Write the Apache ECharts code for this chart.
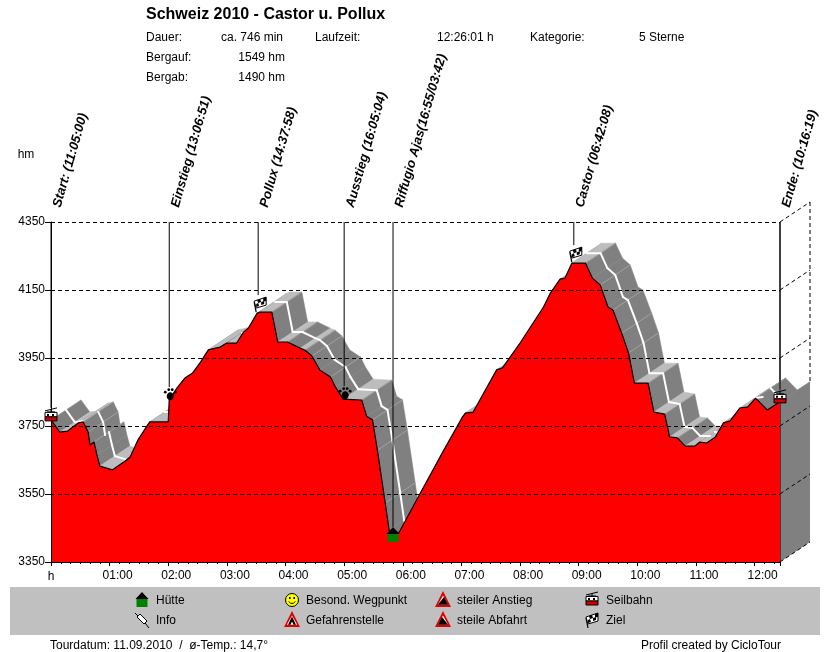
<!DOCTYPE html>
<html><head><meta charset="utf-8">
<style>html,body{margin:0;padding:0;background:#fff}#c{width:830px;height:652px}</style>
<script src="https://cdn.jsdelivr.net/npm/echarts@6/dist/echarts.min.js"></script>
</head><body><div id="c"></div>
<script>
const minutes=[0,9,17,28,33,38,40,44,47,50,63,76,81,89,101,120,121,129,137,145,153,161,173,180,190,197,202,211,214,226,232,242,255,260,267,275,286,291,299,318,323,329,334,342,346,350,357,378,401,421,424,432,456,462,480,504,511,521,526,533,547,554,562,570,575,584,591,597,611,617,628,633,641,649,659,664,671,680,688,695,705,713,721,733,746];
const elevations=[3768,3732,3735,3759,3762,3732,3694,3703,3665,3632,3621,3647,3659,3709,3762,3762,3826,3862,3891,3906,3938,3974,3982,3994,3994,4026,4038,4082,4085,4085,3997,3997,3979,3973,3956,3915,3894,3865,3829,3826,3779,3768,3679,3524,3444,3415,3441,3553,3674,3776,3788,3791,3915,3921,3994,4100,4141,4182,4185,4229,4229,4185,4165,4100,4091,4023,3965,3876,3876,3791,3785,3718,3715,3691,3691,3703,3700,3718,3759,3765,3803,3806,3832,3797,3821];
const yTicks=[3350,3550,3750,3950,4150,4350];
const xTickLabels=['h','01:00','02:00','03:00','04:00','05:00','06:00','07:00','08:00','09:00','10:00','11:00','12:00'];
const wpNames=['Start: (11:05:00)','Einstieg (13:06:51)','Pollux (14:37:58)','Ausstieg (16:05:04)','Riffugio Ajas(16:55/03:42)','Castor (06:42:08)','Ende: (10:16:19)'];
const wpMinutes=[0,121,212,300,350,535,746];
const wpElev=[3768,3826,4082,3829,3415,4229,3821];
const wpIcons=['cable','paw','flag','paw','hut','flag','cable'];
const legendItems=[['hut','Hütte'],['info','Info'],['smiley','Besond. Wegpunkt'],['danger','Gefahrenstelle'],['up','steiler Anstieg'],['down','steile Abfahrt'],['cable','Seilbahn'],['flag','Ziel']];
const legendCols=[142,292,443,592];
const DX=30,DY=-20;
const F='"Liberation Sans",Arial,sans-serif';

function poly(points,fill,stroke,lw){return {type:'polygon',shape:{points},style:{fill,stroke:stroke||null,lineWidth:lw||0}};}
function ln(x1,y1,x2,y2,c,w){return {type:'line',shape:{x1,y1,x2,y2},style:{stroke:c||'#000',lineWidth:w||1}};}
function rc(x,y,w,h,f,s){return {type:'rect',shape:{x,y,width:w,height:h},style:{fill:f,stroke:s||null,lineWidth:s?1:0}};}
function icon(k){
  if(k==='hut')return [rc(-5.5,-1,11,8,'#008000'),poly([[-6.5,-1],[0,-8],[6.5,-1]],'#000')];
  if(k==='paw')return [{type:'ellipse',shape:{cx:0,cy:2,rx:3.5,ry:4},style:{fill:'#000'}},
    {type:'circle',shape:{cx:-5,cy:-2,r:1.4},style:{fill:'#000'}},{type:'circle',shape:{cx:-1.5,cy:-4.5,r:1.4},style:{fill:'#000'}},
    {type:'circle',shape:{cx:2,cy:-4.5,r:1.4},style:{fill:'#000'}},{type:'circle',shape:{cx:5,cy:-2,r:1.4},style:{fill:'#000'}}];
  if(k==='flag')return [ln(-4,8,-6,-2,'#000',1.2),poly([[-6,-3],[6,-7],[6,1],[-4,4]],'#fff','#000',1),
    poly([[-3,-4],[0,-5],[1,-2],[-2,-1]],'#000'),poly([[3,-6],[6,-7],[6,-3],[3,-2.5]],'#000'),poly([[1,-2],[4,-3],[4,0],[1,1]],'#000'),poly([[-4,0],[-2,-1],[-1,2],[-4,3]],'#000')];
  if(k==='cable')return [ln(-6,-5,6,-8,'#000',1),ln(0,-7,0,-4,'#000',1),ln(-4,-4,4,-4,'#000',1),rc(-6,-3.5,12,4.5,'#fff','#000'),rc(-6,1,12,4,'#d00000','#000'),rc(-4,-2,2,2,'#000'),rc(1,-2,2,2,'#000')];
  if(k==='info')return [ln(-7,-7,-3,-3,'#000',1),ln(3,3,7,8,'#000',1),poly([[-5,-3],[-2,-6],[5,1],[2,4]],'#fff','#000',1)];
  if(k==='smiley')return [{type:'circle',shape:{cx:0,cy:0,r:6.5},style:{fill:'#ffff00',stroke:'#000',lineWidth:1}},rc(-3,-3,1.6,2,'#000'),rc(1.4,-3,1.6,2,'#000'),
    {type:'arc',shape:{cx:0,cy:0,r:3.5,startAngle:0.4,endAngle:2.74},style:{stroke:'#000',lineWidth:1,fill:null}}];
  const tri=[poly([[0,-9],[8,7],[-8,7]],'#e00000'),poly([[0,-4.5],[5.2,4.8],[-5.2,4.8]],'#fff')];
  if(k==='danger')return tri.concat([poly([[0,-3.5],[4,4.8],[1.5,4.8],[0,1.5],[-1.5,4.8],[-4,4.8]],'#000')]);
  if(k==='up')return tri.concat([poly([[1,-3],[5.2,4.8],[-5.2,4.8]],'#000')]);
  if(k==='down')return tri.concat([poly([[-1,-3],[5.2,4.8],[-5.2,4.8]],'#000')]);
  return [];
}
const lineEnd={cable:-8,paw:-7,flag:-9,hut:-8};
const iconShift={cable:[0,-4],paw:[1,-6],flag:[2,-9],hut:[0,-5]};

const profile=minutes.map((m,i)=>[m,elevations[i]]);
const segments=minutes.slice(1).map((m,i)=>[minutes[i],elevations[i],m,elevations[i+1]]);
const slopeOf=(a,b)=>(b[1]-a[1])/Math.max(0.5,b[0]-a[0]);

const txt=(x,y,text,o)=>({type:'text',x,y:y+1,silent:true,style:Object.assign({text,font:'12px '+F,fill:'#000',textVerticalAlign:'middle'},o||{})});
const graphics=[
  {type:'rect',shape:{x:10,y:587,width:810,height:48},style:{fill:'#c0c0c0'},z:0},
  txt(146,14,'Schweiz 2010 - Castor u. Pollux',{font:'bold 16px '+F}),
  txt(146,37,'Dauer:'),txt(221,37,'ca. 746 min'),txt(315,37,'Laufzeit:'),txt(437,37,'12:26:01 h'),txt(530,37,'Kategorie:'),txt(639,37,'5 Sterne'),
  txt(146,57,'Bergauf:'),txt(285,57,'1549 hm',{textAlign:'right'}),txt(146,77,'Bergab:'),txt(285,77,'1490 hm',{textAlign:'right'}),
  txt(26,154,'hm',{textAlign:'center'}),
  txt(51,576,xTickLabels[0],{textAlign:'center'}),
  txt(50,645,'Tourdatum: 11.09.2010  /  ø-Temp.: 14,7°'),txt(781,645,'Profil created by CicloTour',{textAlign:'right'})
];
legendItems.forEach((it,i)=>{
  const x=legendCols[Math.floor(i/2)],y=i%2?620:600;
  graphics.push({type:'group',x,y,children:icon(it[0])});
  graphics.push(txt(x+14,y,it[1]));
});

const chart=echarts.init(document.getElementById('c'),null,{renderer:'canvas'});
chart.setOption({
  animation:false,backgroundColor:'#fff',
  grid:{left:51,right:50,top:222,bottom:90},
  xAxis:{type:'value',min:0,max:746,interval:60,z:3,splitLine:{show:false},showMaxLabel:false,
    axisLine:{onZero:false,lineStyle:{color:'#000'}},axisTick:{length:4,lineStyle:{color:'#000'}},
    minorTick:{show:true,splitNumber:6,length:2,lineStyle:{color:'#000'}},
    axisLabel:{color:'#000',fontFamily:F,fontSize:12,margin:8,padding:[0,0,0,16],
      formatter:v=>(v>0&&v%60===0)?xTickLabels[v/60]:''}},
  yAxis:{type:'value',min:3350,max:4350,z:3,
    axisLine:{show:true,lineStyle:{color:'#000'}},
    axisTick:{show:true,length:6,customValues:yTicks,lineStyle:{color:'#000'}},
    axisLabel:{color:'#000',fontFamily:F,fontSize:12,margin:6,padding:[2,0,0,0],customValues:yTicks,formatter:v=>String(v)},
    splitLine:{show:true,lineStyle:{color:'#000',type:[4,3],width:1}}},
  graphic:{elements:graphics},
  series:[
    {type:'custom',z:1,silent:true,data:yTicks,renderItem(p,api){
      const c=api.coord([746,api.value(0)]);
      return {type:'line',z2:5,shape:{x1:c[0],y1:c[1],x2:c[0]+DX,y2:c[1]+DY},style:{stroke:'#000',lineWidth:1,lineDash:[4,3]}};
    },encode:{y:0}},
    {type:'custom',z:1,silent:true,data:[[746,elevations[elevations.length-1]]],renderItem(p,api){
      const a=api.coord([746,api.value(1)]),b=api.coord([746,yTicks[0]]),t=api.coord([746,yTicks[yTicks.length-1]]);
      return {type:'group',children:[
        poly([a,[a[0]+DX,a[1]+DY],[b[0]+DX,b[1]+DY],b],'#808080'),
        {type:'line',shape:{x1:t[0]+DX,y1:t[1]+DY,x2:a[0]+DX,y2:a[1]+DY},style:{stroke:'#000',lineWidth:1,lineDash:[4,3]}},
        ln(t[0],t[1],b[0],b[1],'#000',1)
      ]};
    },encode:{x:0,y:1}},
    {type:'custom',z:1,silent:true,data:segments,renderItem(p,api){
      const a=api.coord([api.value(0),api.value(1)]),b=api.coord([api.value(2),api.value(3)]);
      const flat=Math.abs(b[1]-a[1])/Math.max(0.5,b[0]-a[0])<0.45;
      const col=flat?'#bdbdbd':'#808080';
      return poly([a,b,[b[0]+DX,b[1]+DY],[a[0]+DX,a[1]+DY]],col,col,0.5);
    },encode:{x:[0,2],y:[1,3]}},
    {type:'custom',z:1,silent:true,data:profile.map((q,i)=>i).filter(i=>i>0&&i<profile.length-1&&slopeOf(profile[i],profile[i+1])<-1&&slopeOf(profile[i],profile[i+1])<slopeOf(profile[i-1],profile[i])),renderItem(p,api){
      const q=profile[api.value(0)],c=api.coord(q);
      return ln(c[0],c[1],c[0]+DX,c[1]+DY,'#a0a0a0',1);
    }},
    {type:'custom',z:1,silent:true,data:segments,renderItem(p,api){
      const a=api.coord([api.value(0),api.value(1)]),b=api.coord([api.value(2),api.value(3)]);
      if((a[1]-b[1])>0.15*(b[0]-a[0])) return {type:'group',children:[]};
      return {type:'line',z2:10,shape:{x1:a[0]+DX/2,y1:a[1]+DY/2,x2:b[0]+DX/2,y2:b[1]+DY/2},style:{stroke:'#fff',lineWidth:2,lineCap:'round'}};
    },encode:{x:[0,2],y:[1,3]}},
    {type:'line',z:2,silent:true,data:profile,symbol:'none',smooth:false,
      lineStyle:{color:'#000',width:1.2},areaStyle:{color:'#ff0000',opacity:1,origin:'start'}},
    {type:'custom',z:4,silent:true,data:wpMinutes.map((m,i)=>[m,wpElev[i],i]),renderItem(p,api){
      const i=api.value(2),k=wpIcons[i];
      const c=api.coord([api.value(0),api.value(1)]),t=api.coord([api.value(0),yTicks[yTicks.length-1]]);
      const s=iconShift[k];
      return {type:'group',children:[
        ln(t[0],t[1],t[0],c[1]+s[1]+lineEnd[k],'#000',1),
        {type:'group',x:c[0]+s[0],y:c[1]+s[1],children:icon(k)},
        {type:'text',x:t[0]+6,y:t[1]-15,rotation:74*Math.PI/180,style:{text:wpNames[i],font:'italic bold 13px '+F,fill:'#000',textAlign:'left',textVerticalAlign:'middle'}}
      ]};
    },encode:{x:0,y:1}}
  ]
});
</script></body></html>
